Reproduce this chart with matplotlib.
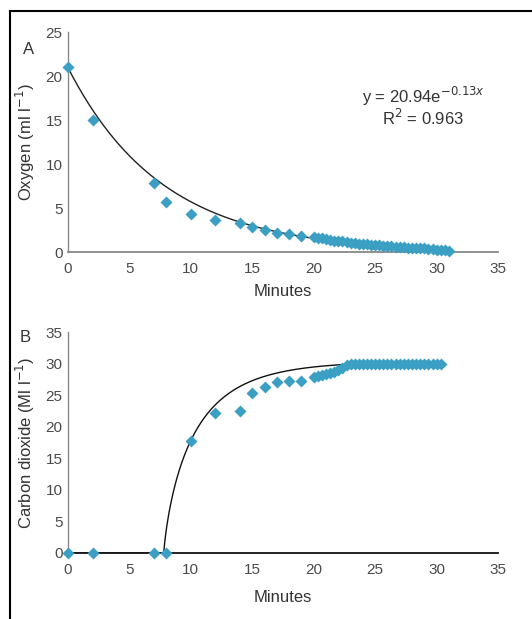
import numpy as np
import matplotlib
matplotlib.use("Agg")
import matplotlib.pyplot as plt
from matplotlib.lines import Line2D

plt.rcParams['font.family'] = ['Liberation Sans', 'DejaVu Sans']

# ---- Panel A: oxygen ----
oxy_x = [0, 2, 7, 8, 10, 12, 14, 15, 16, 17, 18, 19,
         20, 20.33, 20.67, 21, 21.33, 21.67, 22, 22.33, 22.67, 23, 23.33, 23.67,
         24, 24.33, 24.67, 25, 25.33, 25.67, 26, 26.33, 26.67, 27, 27.33, 27.67,
         28, 28.33, 28.67, 29, 29.33, 29.67, 30, 30.33, 30.67, 31]
oxy_y = [21.0, 15.0, 7.8, 5.7, 4.3, 3.6, 3.3, 2.8, 2.5, 2.2, 2.0, 1.8,
         1.65, 1.6, 1.55, 1.45, 1.4, 1.3, 1.25, 1.2, 1.1, 1.05, 1.0, 0.95,
         0.9, 0.88, 0.85, 0.8, 0.75, 0.7, 0.68, 0.65, 0.6, 0.58, 0.55, 0.5,
         0.5, 0.45, 0.42, 0.4, 0.35, 0.3, 0.28, 0.25, 0.2, 0.1]
fit_a, fit_b = 20.94, -0.13   # exponential trendline parameters (from equation)
fit_r2 = 0.963

# ---- Panel B: carbon dioxide ----
co2_x = [0, 2, 7, 8, 10, 12, 14, 15, 16, 17, 18, 19,
         20, 20.33, 20.67, 21, 21.33, 21.67, 22, 22.33, 22.67, 23, 23.33, 23.67,
         24, 24.33, 24.67, 25, 25.33, 25.67, 26, 26.33, 26.67, 27, 27.33, 27.67,
         28, 28.33, 28.67, 29, 29.33, 29.67, 30, 30.33]
co2_y = [0, 0, 0, 0, 17.7, 22.2, 22.5, 25.3, 26.3, 27.1, 27.3, 27.3,
         27.9, 28.0, 28.2, 28.3, 28.5, 28.7, 29.0, 29.3, 29.7, 30, 30, 30,
         30, 30, 30, 30, 30, 30, 30, 30, 30, 30, 30, 30,
         30, 30, 30, 30, 30, 30, 30, 30]
# saturating trendline parameters (capped at plateau)
co2_max, co2_cap, co2_x0, co2_k, co2_p = 30.4, 30.0, 7.8, 0.47, 0.8

xticks = [0, 5, 10, 15, 20, 25, 30, 35]
marker_color = '#3a9fc2'
tick_color = '#4a4a4a'
W, H = 532, 619

fig = plt.figure(figsize=(5.32, 6.19), dpi=100)
axA = fig.add_axes([68/W, 1-252/H, 430/W, 220/H])
axB = fig.add_axes([68/W, 1-553/H, 430/W, 221/H])

def style(ax, ymax, bottom_color, xlab_off):
    ax.set_xlim(0, 35)
    ax.set_ylim(0, ymax)
    ax.set_xticks(xticks)
    ax.set_yticks(np.arange(0, ymax+1, 5))
    ax.tick_params(length=0, labelsize=11, labelcolor=tick_color)
    ax.tick_params(axis='x', pad=7)
    ax.tick_params(axis='y', pad=4)
    for s in ['top', 'right']:
        ax.spines[s].set_visible(False)
    ax.spines['left'].set_color('#888888')
    ax.spines['bottom'].set_color(bottom_color)
    ax.spines['left'].set_linewidth(1.0)
    ax.spines['bottom'].set_linewidth(1.3)
    ax.set_xlabel('Minutes', fontsize=12, color='#333333')
    ax.xaxis.set_label_coords(0.5, -xlab_off)
    ax.xaxis.label.set_va('center')

# Panel A
xa = np.linspace(0, 31, 300)
axA.plot(xa, fit_a*np.exp(fit_b*xa), color='#222222', lw=1.0, zorder=2)
axA.plot(oxy_x, oxy_y, 'D', color=marker_color, markersize=6, mec='none', clip_on=False, zorder=3)
style(axA, 25, '#888888', 40/220)
axA.set_ylabel('Oxygen (ml l$^{-1}$)', fontsize=12, color='#333333')
axA.yaxis.set_label_coords((25-68)/430, 0.5)
axA.yaxis.label.set_va('center')
fig.text(423/W, 1-96/H, 'y = 20.94e$^{-0.13x}$', fontsize=12, color='#333333',
         ha='center', va='center')
fig.text(423/W, 1-118/H, 'R$^2$ = %.3f' % fit_r2, fontsize=12, color='#333333',
         ha='center', va='center')

# Panel B
xb = np.linspace(0, 30.4, 600)
d = np.clip(xb - co2_x0, 0, None)
yb = np.minimum(co2_max*(1 - np.exp(-co2_k*d**co2_p)), co2_cap)
axB.plot(xb, yb, color='#111111', lw=1.0, zorder=2)
axB.plot(co2_x, co2_y, 'D', color=marker_color, markersize=6, mec='none', clip_on=False, zorder=3)
style(axB, 35, '#111111', 44/221)
axB.set_ylabel('Carbon dioxide (Ml l$^{-1}$)', fontsize=12, color='#333333')
axB.yaxis.set_label_coords((25-68)/430, 0.5)
axB.yaxis.label.set_va('center')

fig.text(29/W, 1-49/H, 'A', fontsize=12, color='#333333', ha='center', va='center')
fig.text(25/W, 1-338/H, 'B', fontsize=12, color='#333333', ha='center', va='center')

# outer frame (left and top edges)
fig.add_artist(Line2D([10/W, 10/W], [0, 1-11/H], transform=fig.transFigure, color='black', lw=1.5))
fig.add_artist(Line2D([10/W, 1], [1-11/H, 1-11/H], transform=fig.transFigure, color='black', lw=1.5))

fig.savefig('out.png', dpi=100)
